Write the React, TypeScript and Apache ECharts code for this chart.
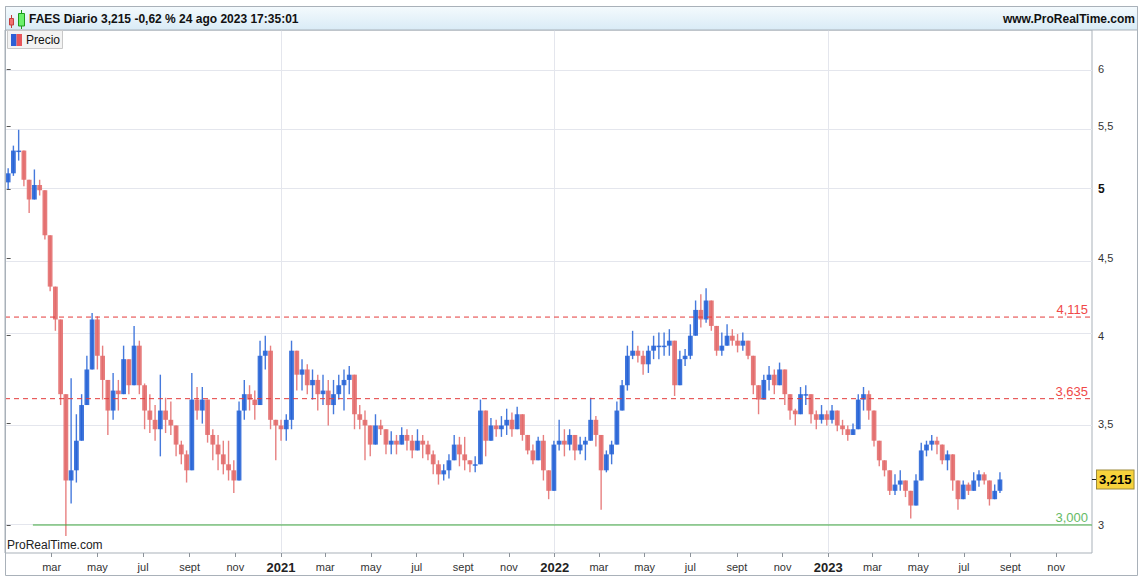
import React, { useEffect, useRef } from 'react';
import * as echarts from 'echarts';

// ---- data (weekly) ----
const START = '2020-01-03'; // first weekly bar (Friday)
const firstOpen = 5.05;
const closes = [
  5.12, 5.30, 5.30, 5.07, 4.92, 5.03, 4.99, 4.66, 4.31, 4.10,
  3.66, 3.21, 3.26, 3.41, 3.60, 3.80, 4.10, 3.88, 3.74, 3.57,
  3.68, 3.66, 3.86, 3.71, 3.94, 3.71, 3.57, 3.52, 3.47, 3.57,
  3.52, 3.49, 3.39, 3.34, 3.26, 3.63, 3.57, 3.63, 3.44, 3.39,
  3.34, 3.29, 3.26, 3.21, 3.57, 3.66, 3.63, 3.60, 3.88, 3.91,
  3.52, 3.49, 3.47, 3.52, 3.91, 3.77, 3.80, 3.71, 3.74, 3.66,
  3.68, 3.60, 3.66, 3.71, 3.74, 3.77, 3.55, 3.52, 3.49, 3.39,
  3.49, 3.47, 3.39, 3.41, 3.39, 3.44, 3.41, 3.36, 3.41, 3.39,
  3.34, 3.29, 3.24, 3.26, 3.31, 3.39, 3.34, 3.31, 3.29, 3.29,
  3.57, 3.41, 3.49, 3.47, 3.49, 3.52, 3.47, 3.55, 3.44, 3.36,
  3.31, 3.41, 3.26, 3.16, 3.39, 3.41, 3.39, 3.44, 3.36, 3.39,
  3.41, 3.52, 3.44, 3.26, 3.34, 3.39, 3.57, 3.71, 3.88, 3.91,
  3.88, 3.83, 3.91, 3.94, 3.94, 3.94, 3.97, 3.71, 3.86, 3.88,
  4.00, 4.16, 4.10, 4.22, 4.06, 3.91, 3.94, 4.00, 3.97, 3.94,
  3.97, 3.88, 3.71, 3.63, 3.74, 3.77, 3.71, 3.80, 3.66, 3.57,
  3.55, 3.66, 3.66, 3.55, 3.52, 3.55, 3.52, 3.57, 3.49, 3.47,
  3.44, 3.47, 3.63, 3.66, 3.57, 3.41, 3.31, 3.26, 3.16, 3.19,
  3.21, 3.16, 3.09, 3.21, 3.36, 3.39, 3.41, 3.39, 3.31, 3.34,
  3.21, 3.12, 3.19, 3.16, 3.21, 3.24, 3.21, 3.12, 3.16, 3.215,
];
const highs = [
  5.16, 5.34, 5.47, 5.22, 5.02, 5.15, 5.07, 4.95, 4.55, 4.30,
  3.90, 3.55, 3.75, 3.55, 3.66, 3.88, 4.14, 4.12, 3.94, 3.74,
  3.78, 3.74, 3.94, 3.86, 4.06, 3.97, 3.72, 3.66, 3.60, 3.77,
  3.64, 3.62, 3.49, 3.41, 3.36, 3.78, 3.70, 3.70, 3.57, 3.47,
  3.44, 3.41, 3.41, 3.31, 3.62, 3.74, 3.71, 3.68, 3.97, 4.00,
  3.94, 3.52, 3.52, 3.55, 3.97, 3.88, 3.86, 3.83, 3.80, 3.77,
  3.77, 3.74, 3.74, 3.77, 3.80, 3.82, 3.77, 3.60, 3.57, 3.49,
  3.55, 3.52, 3.44, 3.46, 3.44, 3.48, 3.47, 3.44, 3.47, 3.44,
  3.41, 3.36, 3.31, 3.29, 3.34, 3.44, 3.43, 3.43, 3.31, 3.33,
  3.63, 3.49, 3.53, 3.52, 3.54, 3.58, 3.56, 3.59, 3.52, 3.41,
  3.39, 3.43, 3.44, 3.24, 3.41, 3.52, 3.47, 3.47, 3.43, 3.43,
  3.43, 3.64, 3.54, 3.41, 3.36, 3.41, 3.62, 3.74, 3.94, 4.03,
  3.94, 3.91, 3.94, 4.00, 4.02, 4.02, 4.04, 3.91, 3.91, 3.92,
  4.07, 4.22, 4.26, 4.30, 4.20, 4.03, 4.02, 4.07, 4.04, 4.01,
  4.02, 3.97, 3.86, 3.70, 3.77, 3.82, 3.80, 3.84, 3.72, 3.63,
  3.58, 3.70, 3.71, 3.63, 3.57, 3.60, 3.57, 3.60, 3.55, 3.52,
  3.49, 3.50, 3.66, 3.70, 3.68, 3.57, 3.38, 3.31, 3.23, 3.24,
  3.26, 3.21, 3.13, 3.24, 3.40, 3.41, 3.44, 3.43, 3.39, 3.36,
  3.31, 3.19, 3.21, 3.20, 3.25, 3.26, 3.25, 3.18, 3.19, 3.25,
];
const lows = [
  5.00, 5.10, 5.22, 5.02, 4.82, 4.92, 4.95, 4.63, 4.28, 4.03,
  3.60, 2.95, 3.10, 3.20, 3.45, 3.62, 3.88, 3.80, 3.63, 3.44,
  3.52, 3.57, 3.68, 3.66, 3.80, 3.66, 3.47, 3.45, 3.41, 3.33,
  3.45, 3.44, 3.33, 3.29, 3.20, 3.30, 3.52, 3.50, 3.40, 3.31,
  3.26, 3.24, 3.21, 3.15, 3.30, 3.52, 3.57, 3.52, 3.68, 3.80,
  3.47, 3.31, 3.41, 3.41, 3.47, 3.68, 3.68, 3.66, 3.63, 3.57,
  3.60, 3.49, 3.55, 3.63, 3.57, 3.66, 3.47, 3.47, 3.31, 3.33,
  3.41, 3.44, 3.34, 3.34, 3.34, 3.39, 3.36, 3.32, 3.36, 3.32,
  3.31, 3.24, 3.19, 3.21, 3.22, 3.31, 3.28, 3.26, 3.25, 3.25,
  3.30, 3.33, 3.41, 3.43, 3.43, 3.44, 3.43, 3.47, 3.41, 3.34,
  3.29, 3.34, 3.21, 3.12, 3.17, 3.36, 3.33, 3.36, 3.31, 3.34,
  3.31, 3.41, 3.38, 3.07, 3.25, 3.29, 3.44, 3.57, 3.68, 3.86,
  3.84, 3.77, 3.78, 3.86, 3.86, 3.88, 3.88, 3.65, 3.74, 3.82,
  3.86, 4.03, 4.05, 4.08, 4.03, 3.88, 3.88, 3.95, 3.94, 3.90,
  3.91, 3.86, 3.66, 3.55, 3.63, 3.68, 3.66, 3.71, 3.60, 3.52,
  3.49, 3.57, 3.60, 3.50, 3.47, 3.50, 3.49, 3.50, 3.46, 3.44,
  3.41, 3.44, 3.52, 3.57, 3.52, 3.38, 3.28, 3.23, 3.14, 3.14,
  3.16, 3.13, 3.03, 3.12, 3.21, 3.33, 3.36, 3.34, 3.29, 3.26,
  3.16, 3.07, 3.14, 3.14, 3.16, 3.18, 3.19, 3.09, 3.14, 3.15,
];

const yTicks = [3, 3.5, 4, 4.5, 5, 5.5, 6];
const boldTicks = [5];
const tickDates = [
  '2020-03-01', '2020-05-01', '2020-07-01', '2020-09-01', '2020-11-01',
  '2021-01-01', '2021-03-01', '2021-05-01', '2021-07-01', '2021-09-01', '2021-11-01',
  '2022-01-01', '2022-03-01', '2022-05-01', '2022-07-01', '2022-09-01', '2022-11-01',
  '2023-01-01', '2023-03-01', '2023-05-01', '2023-07-01', '2023-09-01', '2023-11-01',
];
const tickLabels = [
  'mar', 'may', 'jul', 'sept', 'nov',
  '2021', 'mar', 'may', 'jul', 'sept', 'nov',
  '2022', 'mar', 'may', 'jul', 'sept', 'nov',
  '2023', 'mar', 'may', 'jul', 'sept', 'nov',
];
const yearLines = ['2021-01-01', '2022-01-01', '2023-01-01'];
const resistanceLevels = [4.115, 3.635];
const supportLevel = 3.0;
const supportFrom = '2020-02-05';
const lastPrice = 3.215;
const xRange = ['2019-12-29T19:00:00Z', '2023-12-18T19:00:00Z'];
const yRange = [2.875, 6.366];

const ORIGIN = Date.parse('2020-01-01T00:00:00Z');
const dayOf = (s: string) => (Date.parse(s.length === 10 ? s + 'T00:00:00Z' : s) - ORIGIN) / 86400000;
const fmtComma = (v: number, d: number) => v.toFixed(d).replace('.', ',');

const BLUE = '#2462d6';
const RED = '#e36a6a';
const FONT = 'Arial, "Liberation Sans", Helvetica, sans-serif';

export default function App() {
  const ref = useRef<HTMLDivElement>(null);

  useEffect(() => {
    if (!ref.current) return;
    const chart = echarts.init(ref.current, null, { renderer: 'svg' });

    const startDay = dayOf(START);
    const candles = closes.map((c, i) => {
      const o = i === 0 ? firstOpen : closes[i - 1];
      const hi = Math.max(highs[i], o, c);
      const lo = Math.min(lows[i], o, c);
      return [startDay + 7 * i, Math.log(o), Math.log(c), Math.log(lo), Math.log(hi)];
    });

    const tickDays = tickDates.map(dayOf);
    const xMin = dayOf(xRange[0]);
    const xMax = dayOf(xRange[1]);

    const gridLineData: any[] = [
      ...yTicks.map((v) => ({ yAxis: Math.log(v) })),
      ...yearLines.map((d) => ({ xAxis: dayOf(d) })),
    ];

    const levelSeries = (v: number, fromX: number, lineColor: string, textColor: string, dash: any) => ({
      type: 'line',
      silent: true,
      z: 5,
      symbol: 'none',
      data: [
        [fromX, Math.log(v)],
        [xMax, Math.log(v)],
      ],
      lineStyle: { color: lineColor, type: dash, width: 1 },
      itemStyle: { color: lineColor },
      endLabel: {
        show: true,
        formatter: fmtComma(v, 3),
        color: textColor,
        fontSize: 13,
        fontFamily: FONT,
        align: 'right',
        verticalAlign: 'bottom',
        distance: 0,
        offset: [-4, -1],
      },
    });

    const option: any = {
      animation: false,
      backgroundColor: '#ffffff',
      grid: {
        left: 5,
        right: 55,
        top: 30,
        bottom: 28,
        show: true,
        borderColor: '#a9b1b9',
        borderWidth: 1,
        backgroundColor: 'transparent',
      },
      xAxis: {
        type: 'value',
        min: xMin,
        max: xMax,
        axisLine: { show: false },
        splitLine: { show: false },
        axisTick: {
          show: true,
          customValues: tickDays,
          length: 4,
          lineStyle: { color: '#8c939a' },
        },
        axisLabel: {
          customValues: tickDays,
          margin: 8,
          color: '#333',
          fontSize: 11,
          fontFamily: FONT,
          formatter: (v: number) => {
            let idx = 0;
            let best = Infinity;
            tickDays.forEach((d, k) => {
              if (Math.abs(d - v) < best) {
                best = Math.abs(d - v);
                idx = k;
              }
            });
            const lab = tickLabels[idx];
            return /^\d{4}$/.test(lab) ? `{y|${lab}}` : lab;
          },
          rich: {
            y: { fontWeight: 'bold', fontSize: 13, color: '#222', fontFamily: FONT },
          },
        },
      },
      yAxis: [
        {
          type: 'value',
          position: 'right',
          min: Math.log(yRange[0]),
          max: Math.log(yRange[1]),
          axisLine: { show: false },
          splitLine: { show: false },
          axisTick: {
            show: true,
            customValues: yTicks.map(Math.log),
            length: 4,
            lineStyle: { color: '#555' },
          },
          axisLabel: {
            customValues: yTicks.map(Math.log),
            margin: 6,
            color: '#333',
            fontSize: 11,
            fontFamily: FONT,
            formatter: (v: number) => {
              const p = Math.round(Math.exp(v) * 10) / 10;
              const s = fmtComma(p, p % 1 === 0 ? 0 : 1);
              return boldTicks.indexOf(p) >= 0 ? `{b|${s}}` : s;
            },
            rich: {
              b: { fontWeight: 'bold', fontSize: 12, color: '#111', fontFamily: FONT },
            },
          },
        },
        {
          type: 'value',
          position: 'right',
          min: Math.log(yRange[0]),
          max: Math.log(yRange[1]),
          axisLine: { show: false },
          splitLine: { show: false },
          axisTick: {
            show: true,
            customValues: [Math.log(lastPrice)],
            length: 5,
            lineStyle: { color: '#222' },
          },
          axisLabel: {
            customValues: [Math.log(lastPrice)],
            margin: 5,
            formatter: () => fmtComma(lastPrice, 3),
            color: '#000',
            fontSize: 13,
            fontWeight: 'bold',
            fontFamily: FONT,
            backgroundColor: '#f7d23c',
            borderColor: '#9c8a3c',
            borderWidth: 1,
            padding: [3, 2, 2, 2],
          },
        },
      ],
      series: [
        {
          name: 'grid',
          type: 'line',
          data: [],
          silent: true,
          z: 1,
          markLine: {
            silent: true,
            z: 1,
            symbol: ['none', 'none'],
            animation: false,
            label: { show: false },
            lineStyle: { color: '#e4e6ed', type: 'solid', width: 1 },
            data: gridLineData,
          },
        },
        {
          name: 'Precio',
          type: 'custom',
          z: 3,
          dimensions: ['x', 'open', 'close', 'low', 'high'],
          encode: { x: 0, y: [1, 2, 3, 4] },
          data: candles,
          renderItem: (params: any, api: any) => {
            const x = api.value(0);
            const oV = api.value(1);
            const cV = api.value(2);
            const o = api.coord([x, oV]);
            const c = api.coord([x, cV]);
            const l = api.coord([x, api.value(3)]);
            const h = api.coord([x, api.value(4)]);
            const color = cV >= oV ? BLUE : RED;
            const w = 4.8;
            const top = Math.min(o[1], c[1]);
            const ht = Math.max(1.5, Math.abs(o[1] - c[1]));
            return {
              type: 'group',
              children: [
                {
                  type: 'line',
                  shape: { x1: h[0], y1: h[1], x2: l[0], y2: l[1] },
                  style: { stroke: color, lineWidth: 1.4, opacity: 0.85 },
                },
                {
                  type: 'rect',
                  shape: { x: o[0] - w / 2, y: top, width: w, height: ht },
                  style: { fill: color, opacity: 0.88 },
                },
              ],
            };
          },
        },
        ...resistanceLevels.map((v) => levelSeries(v, xMin, '#e43b3b', '#f04848', [5, 4])),
        levelSeries(supportLevel, dayOf(supportFrom), '#3fa83f', '#66bb66', 'solid'),
      ],
      graphic: [
        {
          type: 'rect',
          z: 10,
          shape: { x: 5.5, y: 6.5, width: 1132, height: 569 },
          style: { fill: 'none', stroke: '#a9b1b9', lineWidth: 1 },
        },
        {
          type: 'rect',
          z: 10,
          shape: { x: 5.5, y: 6.5, width: 1132, height: 23.5 },
          style: {
            fill: new echarts.graphic.LinearGradient(0, 0, 0, 1, [
              { offset: 0, color: '#f4fafd' },
              { offset: 1, color: '#d9ebf6' },
            ]),
            stroke: '#a9b1b9',
            lineWidth: 1,
          },
        },
        // header candle icon
        { type: 'line', z: 11, shape: { x1: 11.5, y1: 15, x2: 11.5, y2: 28 }, style: { stroke: '#c43c3c', lineWidth: 1 } },
        { type: 'rect', z: 11, shape: { x: 9.5, y: 18.5, width: 4, height: 6.5 }, style: { fill: '#f07070', stroke: '#c43c3c', lineWidth: 1 } },
        { type: 'line', z: 11, shape: { x1: 21.5, y1: 10, x2: 21.5, y2: 29 }, style: { stroke: '#1c9a1c', lineWidth: 1 } },
        { type: 'rect', z: 11, shape: { x: 18.5, y: 13.5, width: 6, height: 12.5 }, style: { fill: '#6af06a', stroke: '#1c9a1c', lineWidth: 1 } },
        {
          type: 'text',
          z: 11,
          x: 29,
          y: 19,
          style: {
            text: 'FAES Diario 3,215 -0,62 % 24 ago 2023 17:35:01',
            fill: '#111',
            font: `bold 12px ${FONT}`,
            verticalAlign: 'middle',
            align: 'left',
          },
        },
        {
          type: 'text',
          z: 11,
          x: 1135,
          y: 19,
          style: {
            text: 'www.ProRealTime.com',
            fill: '#111',
            font: `bold 12px ${FONT}`,
            verticalAlign: 'middle',
            align: 'right',
          },
        },
        // legend
        {
          type: 'rect',
          z: 11,
          shape: { x: 7.5, y: 30.5, width: 55, height: 18 },
          style: { fill: '#f3f3f3', stroke: '#c8c8c8', lineWidth: 1 },
        },
        { type: 'rect', z: 12, shape: { x: 11, y: 34, width: 5.5, height: 12 }, style: { fill: '#2d5fd6' } },
        { type: 'rect', z: 12, shape: { x: 16.5, y: 34, width: 5.5, height: 12 }, style: { fill: '#e8555a' } },
        {
          type: 'text',
          z: 12,
          x: 26,
          y: 40,
          style: { text: 'Precio', fill: '#111', font: `12px ${FONT}`, verticalAlign: 'middle', align: 'left' },
        },
        {
          type: 'text',
          z: 11,
          x: 7,
          y: 545,
          style: { text: 'ProRealTime.com', fill: '#222', font: `12px ${FONT}`, verticalAlign: 'middle', align: 'left' },
        },
      ],
    };

    chart.setOption(option);
    return () => chart.dispose();
  }, []);

  return (
    <div
      ref={ref}
      style={{ position: 'fixed', left: 0, top: 0, width: 1147, height: 581, background: '#fff' }}
    />
  );
}
